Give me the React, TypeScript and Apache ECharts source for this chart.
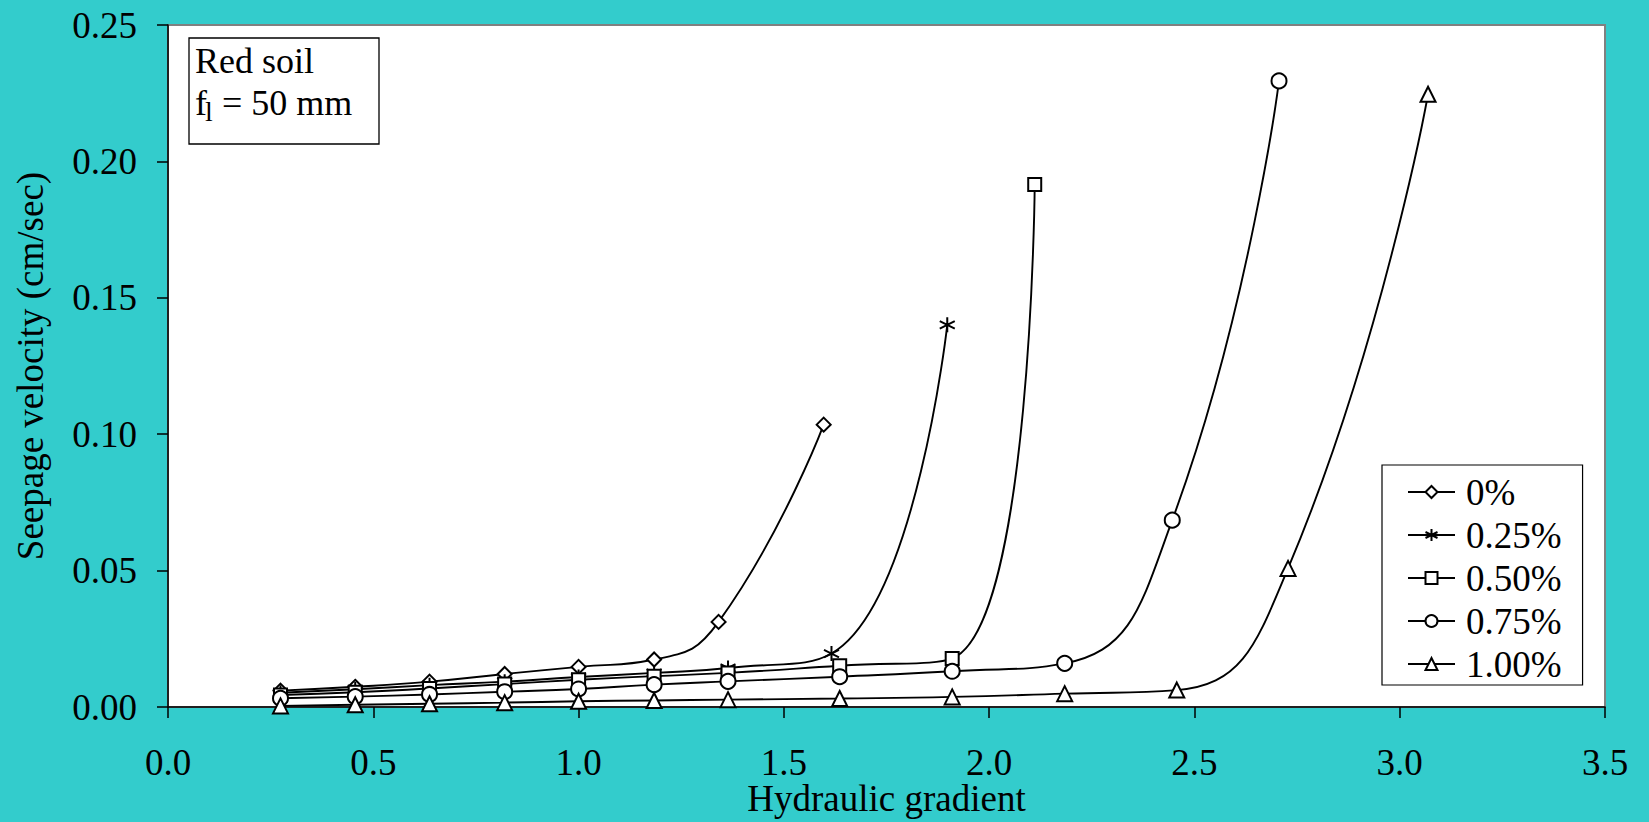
import React, { useEffect, useRef } from "react";
import * as echarts from "echarts";

const FONT = "'Liberation Serif', 'Times New Roman', serif";

const seriesNames = ["0%", "0.25%", "0.50%", "0.75%", "1.00%"];

const x0 = [0.274, 0.456, 0.637, 0.82, 1.0, 1.184, 1.341, 1.597];
const y0 = [0.006, 0.0074, 0.0093, 0.0121, 0.0147, 0.0174, 0.0312, 0.1035];

const x025 = [0.274, 0.456, 0.637, 0.82, 1.0, 1.184, 1.364, 1.616, 1.898];
const y025 = [0.0052, 0.0065, 0.008, 0.0093, 0.011, 0.0125, 0.0143, 0.0196, 0.1401];

const x050 = [0.274, 0.456, 0.637, 0.82, 1.0, 1.184, 1.364, 1.636, 1.91, 2.111];
const y050 = [0.0044, 0.0054, 0.0068, 0.0084, 0.01, 0.0113, 0.0125, 0.0151, 0.0178, 0.1915];

const x075 = [0.274, 0.456, 0.637, 0.82, 1.0, 1.184, 1.364, 1.636, 1.91, 2.184, 2.446, 2.706];
const y075 = [0.0032, 0.0038, 0.0046, 0.0056, 0.0066, 0.0082, 0.0094, 0.0111, 0.0131, 0.016, 0.0685, 0.2295];

const x100 = [0.274, 0.456, 0.637, 0.82, 1.0, 1.184, 1.364, 1.636, 1.91, 2.184, 2.457, 2.728, 3.069];
const y100 = [0.0004, 0.0008, 0.0012, 0.0016, 0.0021, 0.0024, 0.0027, 0.0031, 0.0037, 0.0049, 0.0062, 0.0508, 0.2246];

const ASTERISK = "path://M10,0L10,20M1.3,5L18.7,15M1.3,15L18.7,5";
const symbols = ["diamond", ASTERISK, "rect", "circle", "triangle"];
const symbolSizes = [14, 15, 13, 15, 15];

const xs = [x0, x025, x050, x075, x100];
const ys = [y0, y025, y050, y075, y100];

export default function App() {
  const ref = useRef<HTMLDivElement>(null);
  useEffect(() => {
    if (!ref.current) return;
    const chart = echarts.init(ref.current, null, { renderer: "svg" });
    const series = seriesNames.map((name, i) => ({
      name,
      type: "line",
      data: xs[i].map((x, j) => [x, ys[i][j]]),
      smooth: 0.5,
      symbol: symbols[i],
      symbolSize: symbolSizes[i],
      showAllSymbol: true,
      lineStyle: { color: "#000", width: 1.9 },
      itemStyle: { color: "#fff", borderColor: "#000", borderWidth: 2 },
      emphasis: { disabled: true },
      z: 3,
    }));
    const option: any = {
      animation: false,
      backgroundColor: "#33CCCC",
      grid: {
        left: 168,
        top: 25,
        right: 44,
        bottom: 115,
        outerBoundsMode: "none",
        containLabel: false,
        show: true,
        backgroundColor: "#fff",
        borderColor: "#808080",
        borderWidth: 2,
      },
      xAxis: {
        type: "value",
        min: 0,
        max: 3.5,
        interval: 0.5,
        name: "Hydraulic gradient",
        nameLocation: "middle",
        nameGap: 73,
        nameMoveOverlap: false,
        nameTextStyle: { fontSize: 37, fontFamily: FONT, color: "#000" },
        axisLine: { onZero: false, lineStyle: { color: "#000", width: 1.5 } },
        axisTick: { inside: false, length: 11, lineStyle: { color: "#000", width: 1.5 } },
        axisLabel: {
          margin: 37,
          fontSize: 37,
          fontFamily: FONT,
          color: "#000",
          formatter: (v: number) => v.toFixed(1),
        },
        splitLine: { show: false },
      },
      yAxis: {
        type: "value",
        min: 0,
        max: 0.25,
        interval: 0.05,
        name: "Seepage velocity (cm/sec)",
        nameLocation: "middle",
        nameGap: 119,
        nameMoveOverlap: false,
        nameTextStyle: { fontSize: 37, fontFamily: FONT, color: "#000" },
        axisLine: { onZero: false, lineStyle: { color: "#000", width: 1.5 } },
        axisTick: { inside: false, length: 11, lineStyle: { color: "#000", width: 1.5 } },
        axisLabel: {
          margin: 31,
          fontSize: 37,
          fontFamily: FONT,
          color: "#000",
          formatter: (v: number) => v.toFixed(2),
        },
        splitLine: { show: false },
      },
      legend: {
        orient: "vertical",
        left: 1382,
        top: 465,
        padding: [7, 21, 1, 25],
        itemWidth: 47,
        itemHeight: 15,
        itemGap: 3,
        backgroundColor: "#fff",
        borderColor: "#000",
        borderWidth: 1.2,
        textStyle: { fontSize: 37, fontFamily: FONT, color: "#000", lineHeight: 40, padding: [0, 0, 0, 6] },
        data: seriesNames,
        selectedMode: false,
      },
      graphic: [
        {
          type: "group",
          z: 100,
          children: [
            {
              type: "rect",
              shape: { x: 189, y: 38, width: 190, height: 106 },
              style: { fill: "#fff", stroke: "#000", lineWidth: 1.3 },
            },
            {
              type: "text",
              x: 195,
              y: 61,
              style: { text: "Red soil", font: `36px ${FONT}`, fill: "#000", verticalAlign: "middle", align: "left" },
            },
            {
              type: "text",
              x: 195,
              y: 103,
              style: { text: "f", font: `36px ${FONT}`, fill: "#000", verticalAlign: "middle", align: "left" },
            },
            {
              type: "text",
              x: 205,
              y: 111,
              style: { text: "l", font: `28px ${FONT}`, fill: "#000", verticalAlign: "middle", align: "left" },
            },
            {
              type: "text",
              x: 213,
              y: 103,
              style: { text: " = 50 mm", font: `36px ${FONT}`, fill: "#000", verticalAlign: "middle", align: "left" },
            },
          ],
        },
      ],
      series,
    };
    chart.setOption(option);
    return () => chart.dispose();
  }, []);
  return (
    <div
      ref={ref}
      style={{ position: "fixed", left: 0, top: 0, width: 1649, height: 822 }}
    />
  );
}
